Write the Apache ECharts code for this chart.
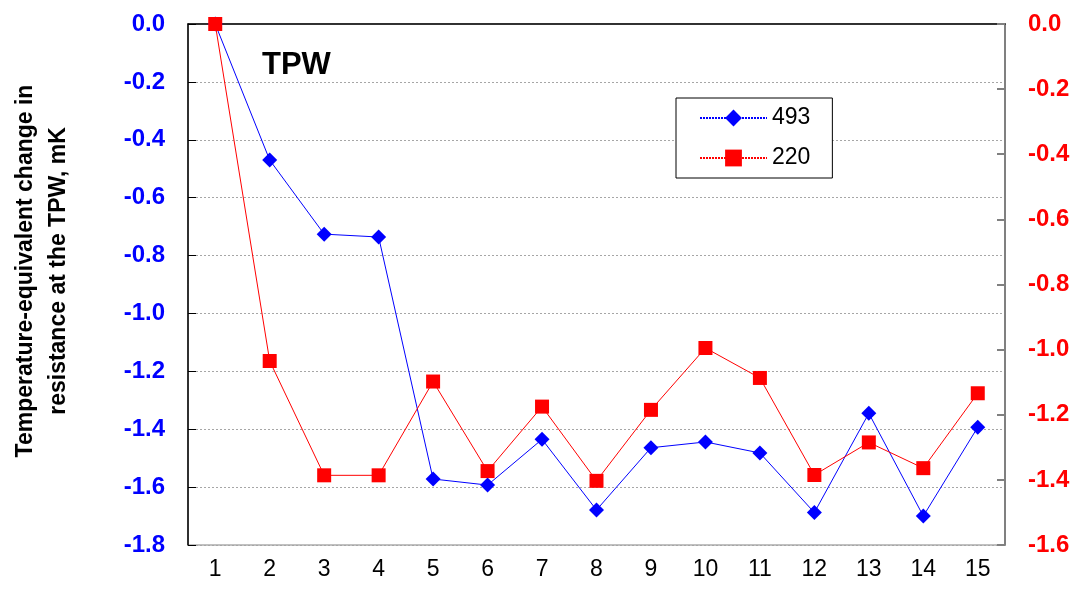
<!DOCTYPE html>
<html>
<head>
<meta charset="utf-8">
<script src="https://cdn.jsdelivr.net/npm/echarts@6/dist/echarts.min.js"></script>
<style>
  html, body { margin: 0; padding: 0; background: #fff; }
  #chart { width: 1078px; height: 589px; }
</style>
</head>
<body>
<div id="chart"></div>
<script>
// Run numbers along the x axis
const categories = ['1','2','3','4','5','6','7','8','9','10','11','12','13','14','15'];

// Thermometer 493 (left axis, mK)
const series493 = [0.0, -0.470, -0.726, -0.736, -1.572, -1.593, -1.435, -1.679, -1.464, -1.444, -1.482, -1.688, -1.345, -1.700, -1.393];

// Thermometer 220 (right axis, mK)
const series220 = [0.0, -1.035, -1.386, -1.386, -1.098, -1.373, -1.175, -1.403, -1.185, -0.995, -1.087, -1.385, -1.285, -1.364, -1.134];

// Axis ranges
const leftAxisRange = { min: -1.8, max: 0, step: 0.2 };
const rightAxisRange = { min: -1.6, max: 0, step: 0.2 };

const FONT = '"Liberation Sans", Arial, sans-serif';

const fmt = v => (Math.abs(v) < 1e-9 ? 0 : v).toFixed(1);

const chart = echarts.init(document.getElementById('chart'));

chart.setOption({
  animation: false,
  backgroundColor: '#ffffff',
  textStyle: { fontFamily: FONT },
  grid: {
    left: 188, right: 73, top: 24, bottom: 44,
    show: true, borderColor: '#808080', borderWidth: 1, backgroundColor: 'transparent'
  },
  legend: {
    orient: 'vertical',
    left: 676, top: 98,
    padding: [8, 22, 8, 23],
    itemWidth: 67, itemHeight: 21, itemGap: 16,
    borderColor: '#000', borderWidth: 1, backgroundColor: '#fff',
    lineStyle: { type: [2, 1] },
    textStyle: { fontFamily: FONT, fontSize: 23, color: '#000', lineHeight: 24 },
    data: ['493', '220']
  },
  xAxis: [{
    type: 'category',
    data: categories,
    boundaryGap: true,
    axisLine: { lineStyle: { color: '#000', width: 1.5 } },
    axisTick: { inside: true, length: 8, lineStyle: { color: '#000' } },
    axisLabel: { color: '#000', fontSize: 23, fontFamily: FONT, margin: 13 },
    splitLine: { show: false }
  }, {
    type: 'category',
    data: categories,
    position: 'top',
    axisLine: { lineStyle: { color: '#333', width: 1 } },
    axisTick: { show: false },
    axisLabel: { show: false },
    splitLine: { show: false }
  }],
  yAxis: [{
    type: 'value',
    position: 'left',
    min: leftAxisRange.min, max: leftAxisRange.max, interval: leftAxisRange.step,
    axisLine: { show: true, lineStyle: { color: '#000', width: 1.5 } },
    axisTick: { show: true, inside: true, length: 8, lineStyle: { color: '#000' } },
    axisLabel: {
      color: '#0000ff', fontSize: 24, fontWeight: 'bold', fontFamily: FONT, margin: 23,
      formatter: fmt
    },
    splitLine: { show: true, lineStyle: { color: '#a6a6a6', type: [2, 2], width: 1 } }
  }, {
    type: 'value',
    position: 'right',
    min: rightAxisRange.min, max: rightAxisRange.max, interval: rightAxisRange.step,
    axisLine: { show: true, lineStyle: { color: '#808080', width: 2 } },
    axisTick: { show: true, inside: true, length: 8, lineStyle: { color: '#808080', width: 2 } },
    axisLabel: {
      color: '#ff0000', fontSize: 24, fontWeight: 'bold', fontFamily: FONT, margin: 23,
      formatter: fmt
    },
    splitLine: { show: false }
  }],
  series: [{
    name: '493',
    type: 'line',
    yAxisIndex: 0,
    data: series493,
    symbol: 'diamond',
    symbolSize: 15,
    z: 3,
    lineStyle: { color: '#0000ff', width: 1 },
    itemStyle: { color: '#0000ff' }
  }, {
    name: '220',
    type: 'line',
    yAxisIndex: 1,
    data: series220,
    symbol: 'rect',
    symbolSize: 14,
    z: 4,
    lineStyle: { color: '#ff0000', width: 1 },
    itemStyle: { color: '#ff0000' }
  }],
  graphic: [{
    type: 'text',
    left: 262, top: 50,
    style: { text: 'TPW', fontSize: 31, fontWeight: 'bold', fontFamily: FONT, fill: '#000' },
    z: 10
  }, {
    type: 'text',
    x: 42, y: 271,
    rotation: Math.PI / 2,
    style: {
      text: 'Temperature-equivalent change in\nresistance at the TPW, mK',
      fontSize: 23, fontWeight: 'bold', fontFamily: FONT, fill: '#000',
      align: 'center', verticalAlign: 'middle', lineHeight: 33
    }
  }]
});
</script>
</body>
</html>
